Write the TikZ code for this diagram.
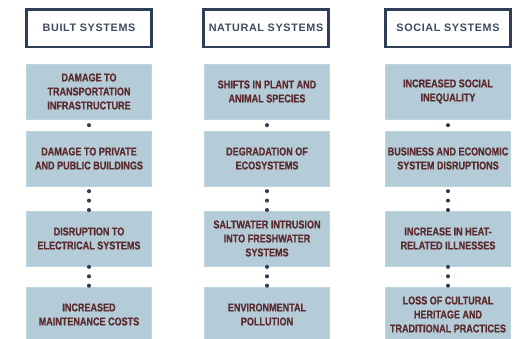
\documentclass[tikz,border=0pt]{standalone}
\usepackage{fontspec}
\newfontfamily\boxfont[FakeStretch=0.8, FakeBold=0.7]{Liberation Sans Bold}
\newfontfamily\headfont[LetterSpace=6]{Liberation Sans Bold}
\definecolor{boxblue}{HTML}{B3CCD8}
\definecolor{boxtext}{HTML}{5C2B2E}
\definecolor{navy}{HTML}{2E3E56}
\definecolor{headtext}{HTML}{3D4B60}
\tikzset{
  header/.style={draw=navy, line width=2.5pt, fill=white, minimum width=125pt, minimum height=37.5pt,
    inner sep=0pt, font=\headfont\fontsize{10.8}{12}\selectfont, text=headtext},
  impact/.style={fill=boxblue, draw=boxblue!85!white, line width=0.4pt, minimum width=125pt, minimum height=55pt,
    inner sep=0pt, align=center, font=\boxfont\fontsize{11.3}{14}\selectfont, text=boxtext},
  dotline/.style={navy, line width=3.4pt, line cap=round, dash pattern=on 0.6pt off 8.8pt, dash phase=#1}
}
\begin{document}
\begin{tikzpicture}[x=1pt,y=1pt]
\useasboundingbox (0,-338) rectangle (520,0);
\begin{scope}
\clip (0,-338) rectangle (520,0);
% headers
\node[header] (hb) at (89,-28) {BUILT SYSTEMS};
\node[header] (hn) at (266,-28) {NATURAL SYSTEMS};
\node[header] (hs) at (448,-28) {SOCIAL SYSTEMS};
% built
\node[impact] (b1) at (89,-91.5) {DAMAGE TO\\TRANSPORTATION\\INFRASTRUCTURE};
\node[impact] (b2) at (89,-158.5) {DAMAGE TO PRIVATE\\AND PUBLIC BUILDINGS};
\node[impact] (b3) at (89,-238.5) {DISRUPTION TO\\ELECTRICAL SYSTEMS};
\node[impact] (b4) at (89,-314.5) {INCREASED\\MAINTENANCE COSTS};
% natural
\node[impact] (n1) at (267,-91.5) {SHIFTS IN PLANT AND\\ANIMAL SPECIES};
\node[impact] (n2) at (267,-158.5) {DEGRADATION OF\\ECOSYSTEMS};
\node[impact] (n3) at (267,-238.5) {SALTWATER INTRUSION\\INTO FRESHWATER\\SYSTEMS};
\node[impact] (n4) at (267,-314.5) {ENVIRONMENTAL\\POLLUTION};
% social
\node[impact] (s1) at (448,-91.5) {INCREASED SOCIAL\\INEQUALITY};
\node[impact] (s2) at (448,-158.5) {BUSINESS AND ECONOMIC\\SYSTEM DISRUPTIONS};
\node[impact] (s3) at (448,-238.5) {INCREASE IN HEAT-\\RELATED ILLNESSES};
\node[impact] (s4) at (448,-314.5) {LOSS OF CULTURAL\\HERITAGE AND\\TRADITIONAL PRACTICES};
% connectors
\foreach \c in {b,n,s}{
  \draw[dotline=3.7pt] (\c1.south) -- (\c2.north);
  \draw[dotline=4.7pt] (\c2.south) -- (\c3.north);
  \draw[dotline=9.0pt] (\c3.south) -- (\c4.north);
}
\end{scope}
\end{tikzpicture}
\end{document}
